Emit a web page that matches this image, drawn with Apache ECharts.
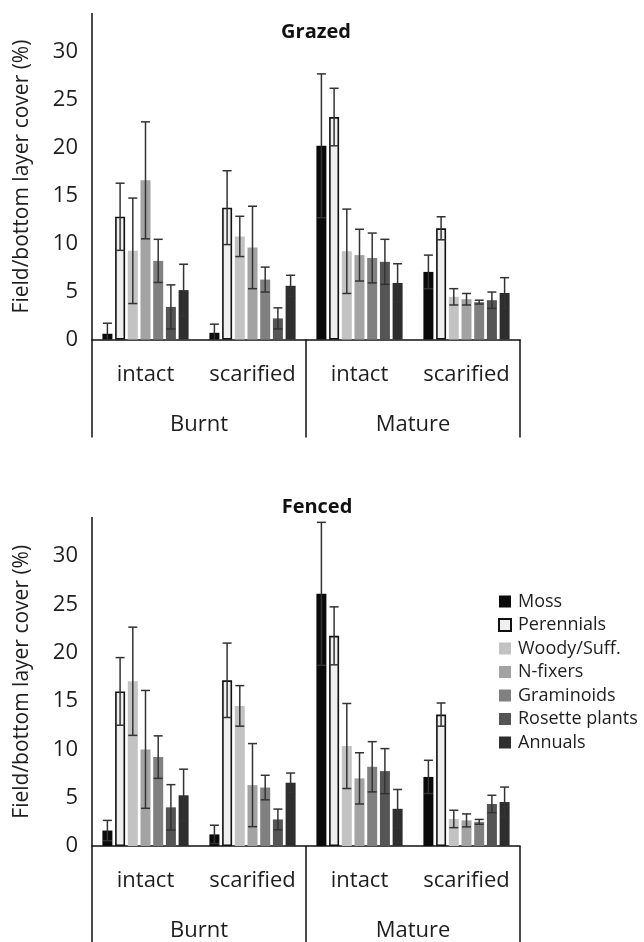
<!DOCTYPE html>
<html>
<head>
<meta charset="utf-8">
<script src="https://cdn.jsdelivr.net/npm/echarts@6/dist/echarts.min.js"></script>
<style>
html,body{margin:0;padding:0;background:#fff;}
#chart{width:644px;height:942px;}
</style>
</head>
<body>
<div id="chart"></div>
<script>
// ---- data ----
const subCategories = ['intact', 'scarified', 'intact', 'scarified'];
const groupCategories = ['Burnt', 'Mature'];
const seriesNames = ['Moss', 'Perennials', 'Woody/Suff.', 'N-fixers', 'Graminoids', 'Rosette plants', 'Annuals'];
const panelTitles = ['Grazed', 'Fenced'];
const yAxisName = 'Field/bottom layer cover (%)';

// Grazed: means and error half-widths, order [Burnt intact, Burnt scarified, Mature intact, Mature scarified]
const grazedMoss        = [0.6, 0.7, 20.2, 7.05];
const grazedPerennials  = [12.8, 13.75, 23.2, 11.6];
const grazedWoody       = [9.25, 10.75, 9.2, 4.45];
const grazedNfixers     = [16.6, 9.6, 8.8, 4.2];
const grazedGraminoids  = [8.2, 6.25, 8.5, 3.9];
const grazedRosette     = [3.4, 2.2, 8.1, 4.1];
const grazedAnnuals     = [5.15, 5.6, 5.9, 4.85];

const grazedMossErr       = [1.1, 0.9, 7.5, 1.75];
const grazedPerennialsErr = [3.5, 3.85, 3.0, 1.2];
const grazedWoodyErr      = [5.5, 2.1, 4.4, 0.85];
const grazedNfixersErr    = [6.1, 4.3, 2.7, 0.6];
const grazedGraminoidsErr = [2.25, 1.3, 2.6, 0.2];
const grazedRosetteErr    = [2.3, 1.1, 2.35, 0.85];
const grazedAnnualsErr    = [2.7, 1.1, 2.0, 1.6];

// Fenced
const fencedMoss        = [1.6, 1.2, 26.1, 7.15];
const fencedPerennials  = [16.0, 17.15, 21.75, 13.6];
const fencedWoody       = [17.05, 14.5, 10.35, 2.8];
const fencedNfixers     = [10.0, 6.3, 7.0, 2.65];
const fencedGraminoids  = [9.2, 6.05, 8.2, 2.5];
const fencedRosette     = [4.0, 2.75, 7.75, 4.35];
const fencedAnnuals     = [5.25, 6.55, 3.85, 4.55];

const fencedMossErr       = [1.05, 0.95, 7.4, 1.72];
const fencedPerennialsErr = [3.5, 3.85, 3.0, 1.2];
const fencedWoodyErr      = [5.6, 2.1, 4.4, 0.9];
const fencedNfixersErr    = [6.1, 4.3, 2.65, 0.67];
const fencedGraminoidsErr = [2.2, 1.27, 2.6, 0.25];
const fencedRosetteErr    = [2.35, 1.07, 2.33, 0.9];
const fencedAnnualsErr    = [2.7, 1.0, 2.0, 1.55];

const yTicks = [0, 5, 10, 15, 20, 25, 30];

// ---- styling ----
const FONT = 'Open Sans';
const TXT = '#1e1e1e';
const colors = ['#0a0a0a', '#efefef', '#c3c3c3', '#a3a3a3', '#808080', '#555555', '#2e2e2e'];
const BAR_W = 10;
const GAP = 2.7;
const PITCH = BAR_W + GAP;

const panels = [
  { means: [grazedMoss, grazedPerennials, grazedWoody, grazedNfixers, grazedGraminoids, grazedRosette, grazedAnnuals],
    errs:  [grazedMossErr, grazedPerennialsErr, grazedWoodyErr, grazedNfixersErr, grazedGraminoidsErr, grazedRosetteErr, grazedAnnualsErr] },
  { means: [fencedMoss, fencedPerennials, fencedWoody, fencedNfixers, fencedGraminoids, fencedRosette, fencedAnnuals],
    errs:  [fencedMossErr, fencedPerennialsErr, fencedWoodyErr, fencedNfixersErr, fencedGraminoidsErr, fencedRosetteErr, fencedAnnualsErr] }
];

const grids = [
  { left: 92, top: 13.5, width: 428, height: 326 },
  { left: 92, top: 517.5, width: 428, height: 329 }
];
const groupTickLen = [98, 97];

const xAxes = [], yAxes = [], series = [];
panels.forEach((p, g) => {
  xAxes.push({
    type: 'category', gridIndex: g, data: subCategories, position: 'bottom',
    axisLine: { show: true, lineStyle: { color: '#111', width: 1.5 } },
    axisTick: { show: false },
    axisLabel: { color: TXT, fontFamily: FONT, fontSize: 22, margin: 24, interval: 0 }
  });
  xAxes.push({
    type: 'category', gridIndex: g, data: groupCategories, position: 'bottom',
    axisLine: { show: false },
    axisTick: { show: true, length: groupTickLen[g], lineStyle: { color: '#111', width: 1.5 } },
    axisLabel: { color: TXT, fontFamily: FONT, fontSize: 22, margin: 74, interval: 0 }
  });
  yAxes.push({
    type: 'value', gridIndex: g, min: 0, max: 34, interval: 5,
    name: yAxisName, nameLocation: 'middle', nameRotate: 90, nameGap: 59,
    nameTextStyle: { color: TXT, fontFamily: FONT, fontSize: 21 },
    axisLine: { show: true, lineStyle: { color: '#111', width: 1.5 } },
    axisTick: { show: false },
    splitLine: { show: false },
    axisLabel: { color: TXT, fontFamily: FONT, fontSize: 22, margin: 14,
      formatter: v => (yTicks.indexOf(v) >= 0 ? String(v) : '') }
  });
  seriesNames.forEach((name, i) => {
    series.push({
      type: 'bar', name: name, xAxisIndex: g * 2, yAxisIndex: g,
      data: p.means[i], barWidth: BAR_W, barGap: (GAP / BAR_W * 100) + '%',
      itemStyle: i === 1
        ? { color: colors[i], borderColor: '#111', borderWidth: 1.6 }
        : { color: colors[i] },
      emphasis: { disabled: true },
      animation: false
    });
  });
  seriesNames.forEach((name, i) => {
    series.push({
      type: 'custom', name: name + ' err', xAxisIndex: g * 2, yAxisIndex: g, z: 5,
      data: p.means[i].map((m, k) => [k, m, p.errs[i][k]]),
      animation: false, silent: true,
      renderItem: (params, api) => {
        const k = api.value(0), m = api.value(1), e = api.value(2);
        const c = api.coord([k, m]);
        const hi = api.coord([k, m + e]);
        const loV = m - e;
        const lo = api.coord([k, Math.max(0, loV)]);
        const x = c[0] + (i - 3) * PITCH;
        const st = { stroke: '#333', lineWidth: 1.5 };
        const ch = [
          { type: 'line', shape: { x1: x, y1: hi[1], x2: x, y2: lo[1] }, style: st },
          { type: 'line', shape: { x1: x - 4.5, y1: hi[1], x2: x + 4.5, y2: hi[1] }, style: st }
        ];
        if (loV > 0) ch.push({ type: 'line', shape: { x1: x - 4.5, y1: lo[1], x2: x + 4.5, y2: lo[1] }, style: st });
        return { type: 'group', children: ch };
      }
    });
  });
});

const chart = echarts.init(document.getElementById('chart'), null, { renderer: 'canvas' });
chart.setOption({
  backgroundColor: '#fff',
  animation: false,
  title: [
    { text: panelTitles[0], left: 316, top: 21, textAlign: 'center', padding: 0,
      textStyle: { fontFamily: FONT, fontSize: 20, fontWeight: 'bold', color: '#111', lineHeight: 22 } },
    { text: panelTitles[1], left: 317, top: 496, textAlign: 'center', padding: 0,
      textStyle: { fontFamily: FONT, fontSize: 20, fontWeight: 'bold', color: '#111', lineHeight: 22 } }
  ],
  legend: {
    data: seriesNames, orient: 'vertical', left: 498, top: 592.5, padding: 0,
    icon: 'rect', itemWidth: 12, itemHeight: 12, itemGap: 5.5,
    textStyle: { fontFamily: FONT, fontSize: 18, color: TXT, lineHeight: 18, padding: [0, 0, 0, 2] },
    selectedMode: false
  },
  grid: grids,
  xAxis: xAxes,
  yAxis: yAxes,
  series: series
});
</script>
</body>
</html>
